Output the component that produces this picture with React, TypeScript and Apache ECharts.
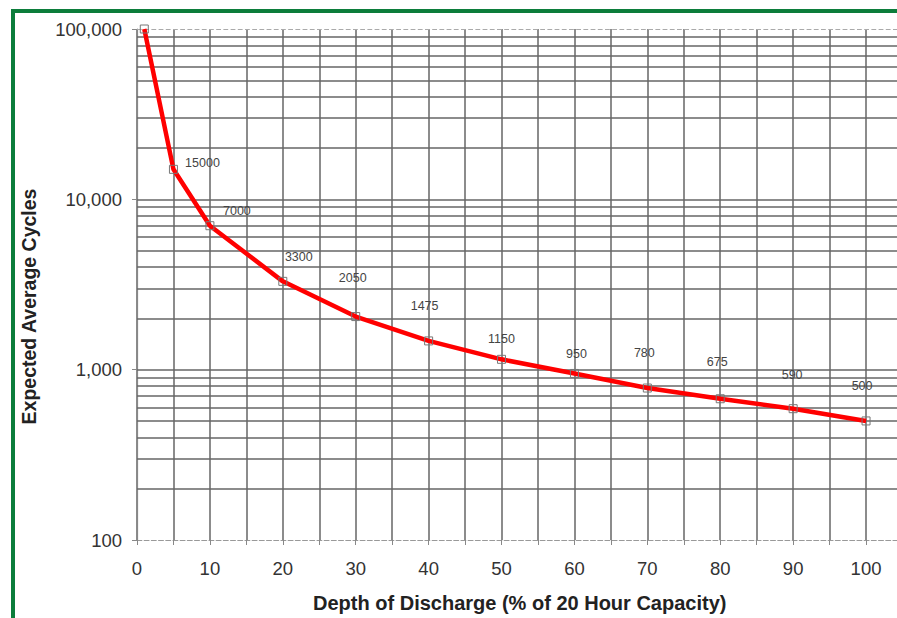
import React, { useEffect, useRef } from "react";
import * as echarts from "echarts";

const depthOfDischarge = [1, 5, 10, 20, 30, 40, 50, 60, 70, 80, 90, 100];
const expectedCycles = [100000, 15000, 7000, 3300, 2050, 1475, 1150, 950, 780, 675, 590, 500];
const pointLabels = ["", "15000", "7000", "3300", "2050", "1475", "1150", "950", "780", "675", "590", "500"];
const decades = [100, 1000, 10000];
const minorMultipliers = [2, 3, 4, 5, 6, 7, 8, 9];

// label placement (style only)
const labelOffsets = [
  [0, 0], [29, -6], [27, -15], [16, -24], [-3, -39], [-4, -35],
  [0, -20], [2, -19], [-3, -35], [-3, -37], [-1, -34], [-4, -35],
];

const FONT = "'Liberation Sans', Arial, sans-serif";
const GRID_COLOR = "#666666";
const LABEL_COLOR = "#444444";

export default function App() {
  const ref = useRef<HTMLDivElement>(null);

  useEffect(() => {
    if (!ref.current) return;
    const chart = echarts.init(ref.current, undefined, { renderer: "svg" });

    const minorLines: any[] = [];
    decades.forEach((d) => minorMultipliers.forEach((m) => minorLines.push({ yAxis: d * m })));
    decades.slice(1).forEach((d) => minorLines.push({ yAxis: d }));

    const data = depthOfDischarge.map((x, i) => ({
      value: [x, expectedCycles[i]],
      label: {
        show: pointLabels[i] !== "",
        formatter: pointLabels[i],
        position: "inside",
        offset: labelOffsets[i],
        color: LABEL_COLOR,
        fontFamily: FONT,
        fontSize: 12.5,
      },
    }));

    chart.setOption({
      animation: false,
      backgroundColor: "#ffffff",
      textStyle: { fontFamily: FONT },
      grid: {
        left: 137,
        width: 765.5,
        top: 29,
        bottom: 78,
        containLabel: false,
        outerBoundsMode: "none",
      },
      xAxis: {
        type: "value",
        min: 0,
        max: 105,
        interval: 5,
        name: "Depth of Discharge (% of 20 Hour Capacity)",
        nameLocation: "middle",
        nameGap: 53,
        nameTextStyle: { fontFamily: FONT, fontWeight: "bold", fontSize: 20, color: "#222" },
        axisLine: { show: true, onZero: false, lineStyle: { color: "#999", width: 1.2, type: "dashed" } },
        axisTick: { show: true, interval: 0, length: 5, lineStyle: { color: "#888" } },
        axisLabel: {
          fontFamily: FONT,
          fontSize: 18.5,
          color: "#333",
          margin: 19,
          formatter: (v: number) => (v % 10 === 0 && v <= 100 ? String(v) : ""),
        },
        splitLine: { show: true, lineStyle: { color: GRID_COLOR, width: 1.5 } },
      },
      yAxis: {
        type: "log",
        logBase: 10,
        min: 100,
        max: 100000,
        name: "Expected Average Cycles",
        nameLocation: "middle",
        nameGap: 98,
        nameTextStyle: {
          fontFamily: FONT,
          fontWeight: "bold",
          fontSize: 19.5,
          color: "#222",
          padding: [0, 44, 0, 0],
        },
        axisLine: { show: true, lineStyle: { color: "#888", width: 1.2 } },
        axisTick: { show: true, length: 5, lineStyle: { color: "#888" } },
        axisLabel: {
          fontFamily: FONT,
          fontSize: 18.5,
          color: "#333",
          margin: 15,
          formatter: (v: number) => Math.round(v).toLocaleString("en-US"),
        },
        splitLine: { show: false },
      },
      graphic: [
        { type: "rect", left: 11, top: 9, shape: { width: 4, height: 620 }, style: { fill: "#0c7d3b" }, z: 100 },
        { type: "rect", left: 11, top: 9, shape: { width: 900, height: 4 }, style: { fill: "#0c7d3b" }, z: 100 },
      ],
      series: [
        {
          type: "line",
          data,
          symbol: "rect",
          symbolSize: 8,
          itemStyle: { color: "rgba(255,255,255,0)", borderColor: "#777", borderWidth: 1 },
          lineStyle: { color: "#ff0000", width: 4.5 },
          label: {
            fontFamily: FONT,
            fontSize: 12.5,
            color: LABEL_COLOR,
            align: "center",
            verticalAlign: "middle",
          },
          z: 5,
          markLine: {
            silent: true,
            symbol: "none",
            label: { show: false },
            lineStyle: { color: GRID_COLOR, width: 1.5, type: "solid" },
            data: [
              ...minorLines,
              { yAxis: 100000, lineStyle: { color: "#aaa", width: 1.2, type: "dashed" } },
            ],
            z: 1,
          },
        },
      ],
    });

    return () => chart.dispose();
  }, []);

  return (
    <div
      ref={ref}
      style={{ position: "absolute", left: 0, top: 0, width: 897, height: 618 }}
    />
  );
}
